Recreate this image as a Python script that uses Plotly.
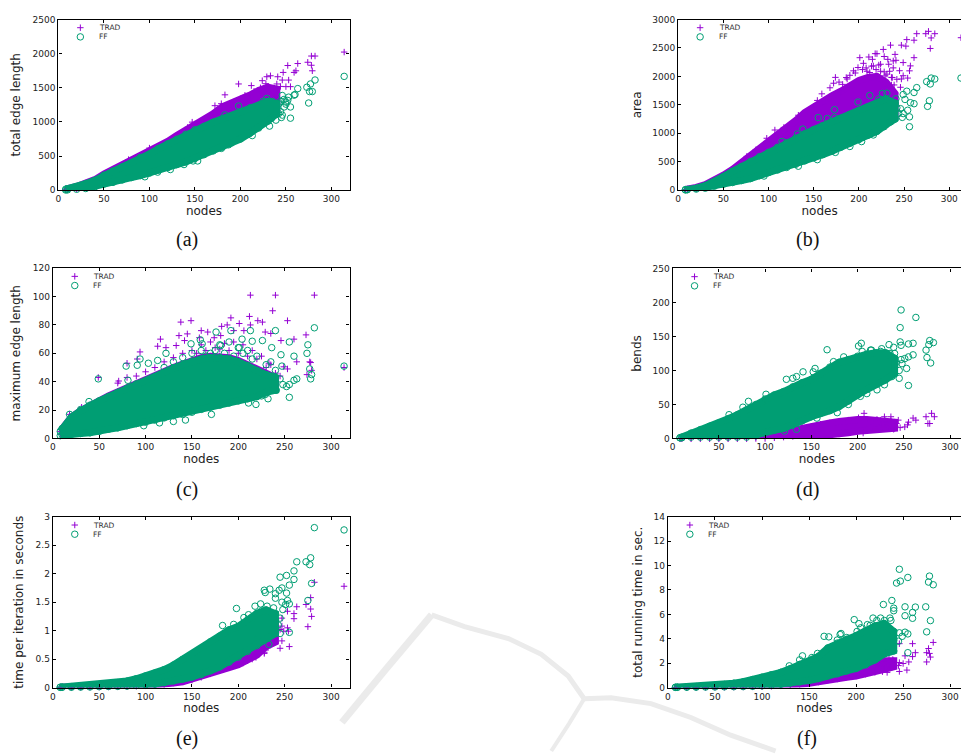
import plotly.graph_objects as go

W, H = 961, 756
PURPLE = "#9400d3"
GREEN = "#009e73"

# x positions (nodes) at which the edges of each dense cloud were read
stops = [8, 10, 20, 30, 40, 50, 60, 70, 80, 90, 100, 110, 120, 130, 140, 150, 160, 170, 180, 190, 200, 210, 220, 230, 240]

# (a) total edge length
a_ff_hi = [15, 20, 50, 95, 145, 220, 280, 340, 400, 480, 530, 610, 680, 745, 820, 885, 935, 995, 1045, 1090, 1140, 1185, 1240, 1300, 1270]
a_ff_lo = [3, 5, 14, 25, 50, 90, 115, 150, 185, 215, 250, 295, 330, 375, 415, 465, 520, 575, 630, 690, 750, 830, 910, 1010, 1120]
a_trad_hi = [15, 20, 55, 105, 155, 235, 300, 365, 440, 500, 580, 635, 715, 800, 880, 970, 1030, 1120, 1220, 1270, 1340, 1390, 1460, 1510, 1480]
a_trad_lo = [5, 7, 20, 35, 60, 100, 125, 160, 200, 230, 270, 310, 350, 390, 430, 490, 540, 600, 660, 720, 790, 870, 950, 1050, 1180]
a_trad_x = [314, 282, 278, 274, 278, 279, 263, 252, 261, 259, 247, 246, 253, 250, 255, 241, 240, 233, 229, 198, 183, 212, 224, 172, 179, 147, 142, 100, 111, 77, 205, 215, 222, 228, 232, 236, 240, 244, 238, 226, 218, 210]
a_trad_y = [2023, 1965, 1965, 1874, 1830, 1749, 1855, 1826, 1749, 1725, 1725, 1613, 1613, 1517, 1517, 1662, 1556, 1676, 1662, 1556, 1397, 1532, 1604, 1238, 1267, 997, 920, 617, 631, 448, 1390, 1450, 1500, 1560, 1490, 1420, 1470, 1520, 1350, 1440, 1380, 1340]
a_ff_x = [314, 282, 277, 273, 279, 276, 275, 263, 260, 259, 255, 255, 245, 239, 232, 213, 187, 179, 183, 198, 229, 246, 252, 248, 242, 211, 219, 239, 242, 250, 253, 148, 153, 138, 123, 109, 95, 232, 236, 240, 244, 248, 234, 228, 222, 238, 244, 225, 235, 250, 246]
a_ff_y = [1667, 1614, 1556, 1508, 1445, 1445, 1277, 1488, 1402, 1392, 1219, 1055, 1065, 1026, 939, 800, 665, 612, 1103, 1233, 1344, 1387, 1315, 1219, 1267, 1209, 1219, 1161, 1122, 1291, 1363, 429, 429, 376, 303, 265, 197, 1150, 1250, 1200, 1300, 1330, 1050, 1080, 1000, 1110, 1150, 1300, 1300, 1260, 1100]

# (b) area
b_ff_hi = [10, 12, 35, 80, 145, 240, 330, 415, 505, 590, 665, 755, 835, 915, 995, 1065, 1135, 1205, 1265, 1335, 1400, 1465, 1525, 1605, 1530]
b_ff_lo = [5, 8, 20, 35, 70, 105, 135, 170, 205, 255, 310, 355, 400, 455, 515, 570, 625, 685, 755, 825, 890, 965, 1035, 1150, 1250]
b_trad_hi = [12, 15, 50, 100, 175, 265, 365, 485, 605, 735, 855, 965, 1095, 1225, 1365, 1470, 1560, 1660, 1740, 1840, 1930, 1980, 2000, 1900, 1700]
b_trad_lo = [6, 9, 25, 45, 80, 120, 150, 190, 230, 280, 330, 380, 430, 490, 550, 610, 670, 740, 810, 890, 970, 1060, 1150, 1270, 1300]
b_trad_x = [313, 277, 284, 274, 280, 279, 264, 253, 261, 252, 247, 235, 261, 240, 241, 249, 257, 256, 249, 254, 247, 246, 239, 238, 227, 220, 211, 201, 199, 233, 224, 216, 174, 159, 154, 133, 117, 107, 98, 76, 86, 194, 187, 212, 231, 236, 205, 215, 222, 228, 232, 238, 242, 236, 245, 228, 218, 208, 168, 172, 178, 182, 186, 190, 196, 204, 209, 214, 219, 224, 229, 234, 237]
b_trad_y = [2680, 2792, 2751, 2751, 2676, 2491, 2751, 2647, 2636, 2532, 2549, 2549, 2329, 2387, 2283, 2243, 2185, 2098, 2012, 1971, 1954, 1809, 1850, 2272, 2474, 2399, 2341, 2329, 2156, 2214, 2214, 2185, 1983, 1694, 1578, 1318, 1104, 1058, 913, 595, 711, 2098, 1954, 2069, 2040, 1983, 2230, 2300, 2200, 2350, 2300, 2150, 1950, 1850, 2100, 2080, 2400, 2150, 1800, 1880, 1900, 1860, 1980, 2020, 2060, 2120, 2090, 2180, 2120, 2090, 2010, 2090, 1980]
b_ff_x = [313, 284, 280, 275, 279, 278, 276, 264, 261, 261, 253, 249, 251, 241, 257, 254, 256, 256, 231, 212, 199, 173, 173, 155, 165, 138, 132, 115, 228, 216, 203, 190, 174, 154, 133, 95, 246, 238, 249, 234, 232, 236, 240, 244, 226, 222, 242, 248, 235, 230, 225]
b_ff_y = [1971, 1954, 1971, 1908, 1867, 1572, 1474, 1803, 1717, 1520, 1740, 1682, 1595, 1607, 1538, 1405, 1289, 1116, 1705, 1665, 1549, 1416, 1277, 1277, 1260, 1075, 988, 855, 1116, 971, 855, 769, 665, 537, 422, 249, 1433, 1289, 1347, 1405, 1500, 1400, 1530, 1350, 1700, 1600, 1450, 1280, 1200, 1260, 1180]

# (c) maximum edge length
c_ff_hi = [5, 7, 15, 19.5, 23.5, 26.5, 29.5, 32.5, 35.5, 38.5, 40.5, 43.5, 46.5, 49.5, 52, 54.5, 56, 57, 57, 56, 54, 51.5, 48, 45, 43]
c_ff_lo = [2, 2.5, 3, 3.5, 4, 5, 6.5, 7.5, 9, 10.5, 11.5, 13, 14.5, 16, 17, 18.5, 20.5, 22, 23.5, 25, 26.5, 28, 29.5, 32.5, 34]
c_trad_hi = [5, 7, 15, 19.5, 23.5, 26.5, 30, 33, 36, 39, 41, 44, 47, 50, 52.5, 55, 57, 58, 58, 57, 55, 52, 48, 45, 43]
c_trad_lo = [3, 3.5, 4, 4.5, 5, 6, 7.5, 8.5, 10, 11.5, 12.5, 14, 15.5, 17, 18, 19.5, 21.5, 23, 24.5, 26, 27.5, 29, 30.5, 33.5, 35]
c_trad_x = [213, 240, 282, 237, 253, 212, 192, 149, 138, 167, 221, 226, 213, 201, 182, 188, 229, 235, 246, 260, 273, 277, 278, 263, 279, 274, 116, 113, 94, 91, 80, 80, 49, 71, 70, 31, 18, 122, 133, 136, 145, 142, 158, 160, 174, 181, 195, 206, 314, 253, 249, 233, 150, 160, 170, 175, 185, 195, 205, 215, 225, 235, 130, 140, 120, 110, 100, 90, 155, 165, 180, 190, 200, 210, 220, 230, 240, 245]
c_trad_y = [101, 101, 101, 90, 83, 86, 85, 83, 82, 75, 83, 82, 80, 81, 79, 80, 75, 74, 69, 70, 73, 54, 53.5, 54, 48, 45, 70, 65, 61, 56, 53, 43, 43, 40.5, 39, 22, 17, 64, 65.5, 72.5, 73.7, 69, 71, 76, 71, 72.5, 76, 76, 50, 49, 50.5, 53, 62, 66, 68, 64, 67, 68, 66, 62, 58, 52, 57, 60, 54, 50, 47, 44, 60, 62, 63, 62, 60, 58, 56, 50, 46, 44]
c_ff_x = [314, 282, 275, 274, 277, 279, 278, 260, 255, 246, 240, 213, 215, 226, 236, 235, 247, 263, 260, 255, 252, 255, 232, 219, 211, 171, 143, 130, 115, 98, 79, 49, 39, 94, 91, 103, 149, 159, 161, 176, 192, 201, 238, 241, 229, 122, 113, 18, 30, 81, 181, 204, 150, 160, 170, 180, 190, 200, 210, 220, 230, 240, 245, 248, 235, 225, 165, 175, 185, 195, 205, 215, 140, 130, 120]
c_ff_y = [51, 78, 66, 60, 49, 45, 42, 58, 68, 59, 76, 76, 68.5, 69, 64, 54, 51, 42, 41, 38, 36.6, 29, 28, 24, 25, 17, 13, 12, 11, 9, 51, 42, 26, 56, 51.6, 53, 66.7, 69.5, 66.7, 75, 76, 64, 39, 34, 31, 60, 55, 17, 20.4, 41, 65.5, 70, 60, 62, 60, 66, 68, 64, 62, 58, 52, 48, 42, 38, 36, 30, 58, 62, 60, 58, 60, 56, 57, 54, 50]

# (d) bends
d_ff_hi = [1, 2, 8, 13, 18, 23, 29, 35, 42, 50, 58, 64, 69, 76, 82, 87, 96, 105, 112, 116, 121, 124, 126, 126, 118]
d_ff_lo = [1, 1, 2, 2, 2, 2, 2, 2, 2, 4, 9, 12, 15, 20, 26, 32, 37, 41, 47, 55, 64, 72, 80, 86, 95]
d_trad_hi = [0, 0, 0, 0, 0, 0, 0, 0, 0, 2, 4, 7, 9, 13, 16, 18, 21, 23, 25, 27, 28, 28, 27, 26, 24]
d_trad_lo = [0, 0, 0, 0, 0, 0, 0, 0, 0, 0, 0, 1, 2, 3, 4, 5.5, 5.5, 5.5, 6.5, 8.5, 10.5, 12.5, 13.5, 14.5, 15]
d_trad_x = [207, 201, 229, 236, 260, 263, 280, 283, 274, 276, 278, 312, 244, 255, 254, 251, 246, 241, 237, 239, 221, 214, 206, 188, 225, 232, 238, 242, 236, 228]
d_trad_y = [37, 30.5, 32, 32, 30, 27, 37, 32, 32, 22, 22, 35, 27, 24, 20, 17, 16, 18, 23, 13.5, 28, 25.6, 8, 9, 27, 24, 18, 22, 26, 17]
d_ff_x = [312, 247, 263, 246, 167, 204, 201, 246, 247, 255, 260, 278, 277, 282, 274, 275, 279, 260, 255, 251, 247, 248, 253, 245, 255, 235, 234, 226, 214, 239, 240, 237, 239, 237, 229, 221, 210, 203, 190, 178, 156, 141, 154, 152, 134, 123, 130, 101, 82, 76, 61, 134, 121, 174, 185, 205, 215, 225, 232, 238, 242, 236, 232, 228, 222, 216, 245, 240, 210, 195]
d_ff_y = [202, 189, 178, 163, 130.5, 140, 136, 142, 137, 139, 140, 144, 138, 141, 130, 119, 111, 123, 120, 117.5, 116, 110, 103, 88.5, 78, 125, 138, 132, 130, 134, 125, 105, 100, 91, 79, 71.5, 66, 62, 50, 38, 30, 98, 103, 98, 91, 87, 88.5, 65, 54.6, 46, 35, 13.5, 11, 113, 120, 128, 130, 128, 125, 118, 112, 100, 95, 90, 85, 80, 100, 105, 75, 62]

# (e) time per iteration in seconds
e_ff_hi = [0.005, 0.008, 0.015, 0.02, 0.03, 0.04, 0.055, 0.085, 0.115, 0.155, 0.205, 0.255, 0.315, 0.395, 0.495, 0.585, 0.685, 0.805, 0.905, 1.015, 1.075, 1.185, 1.305, 1.365, 1.3]
e_ff_lo = [0.005, 0.005, 0.005, 0.008, 0.01, 0.015, 0.018, 0.02, 0.025, 0.035, 0.05, 0.06, 0.085, 0.115, 0.15, 0.185, 0.225, 0.295, 0.365, 0.445, 0.535, 0.635, 0.735, 0.855, 0.95]
e_trad_hi = [0.005, 0.005, 0.01, 0.015, 0.02, 0.03, 0.04, 0.06, 0.08, 0.1, 0.13, 0.16, 0.2, 0.25, 0.31, 0.38, 0.44, 0.51, 0.58, 0.66, 0.74, 0.83, 0.93, 1.03, 1.1]
e_trad_lo = [0.005, 0.005, 0.005, 0.005, 0.008, 0.01, 0.012, 0.015, 0.02, 0.025, 0.03, 0.04, 0.055, 0.08, 0.1, 0.13, 0.18, 0.24, 0.3, 0.35, 0.4, 0.47, 0.57, 0.72, 0.8]
e_trad_x = [314, 282, 278, 273, 278, 279, 275, 263, 260, 260, 253, 255, 245, 247, 240, 247, 247, 253, 254, 238, 238, 238, 233, 232, 228, 219, 222, 233, 249, 245, 225, 230, 235, 240, 228, 215, 205]
e_trad_y = [1.78, 1.85, 1.58, 1.46, 1.38, 1.25, 1.07, 1.42, 1.30, 1.21, 1.34, 0.72, 0.69, 0.82, 1.14, 1.22, 1.08, 1.05, 0.99, 1.02, 0.88, 0.79, 0.94, 0.70, 0.62, 0.53, 0.73, 0.82, 0.99, 1.02, 0.68, 0.75, 0.85, 0.95, 0.60, 0.50, 0.43]
e_ff_x = [314, 282, 278, 273, 277, 279, 275, 263, 260, 260, 255, 252, 245, 252, 247, 244, 234, 228, 229, 240, 240, 247, 253, 251, 255, 248, 198, 183, 218, 224, 231, 238, 245, 255, 245, 233, 211, 206, 195, 205, 215, 225, 232, 236, 240, 243, 236, 232, 226, 220]
e_ff_y = [2.77, 2.81, 2.28, 2.21, 2.16, 1.83, 1.53, 2.21, 2.05, 1.90, 1.80, 1.97, 1.94, 1.66, 1.75, 1.71, 1.73, 1.71, 1.67, 1.65, 1.57, 1.50, 1.53, 1.46, 1.47, 1.37, 1.39, 1.09, 1.43, 1.47, 1.43, 1.40, 1.22, 0.97, 0.95, 0.76, 1.28, 1.23, 1.11, 1.12, 1.20, 1.35, 1.33, 1.25, 1.20, 1.10, 1.05, 0.95, 0.90, 0.85]

# (f) total running time in sec.
f_ff_hi = [0.02, 0.03, 0.05, 0.08, 0.12, 0.18, 0.25, 0.36, 0.48, 0.65, 0.85, 1.05, 1.25, 1.55, 1.9, 2.15, 2.55, 3.25, 3.65, 3.95, 4.25, 4.65, 5.05, 5.25, 4.6]
f_ff_lo = [0.02, 0.02, 0.03, 0.03, 0.04, 0.05, 0.06, 0.07, 0.08, 0.1, 0.14, 0.2, 0.27, 0.36, 0.46, 0.58, 0.74, 0.95, 1.12, 1.36, 1.56, 1.86, 2.26, 2.76, 3]
f_trad_hi = [0.01, 0.01, 0.02, 0.03, 0.05, 0.07, 0.08, 0.1, 0.12, 0.15, 0.18, 0.22, 0.25, 0.3, 0.37, 0.47, 0.6, 0.75, 0.92, 1.12, 1.37, 1.65, 1.95, 2.2, 2.2]
f_trad_lo = [0.01, 0.01, 0.01, 0.02, 0.02, 0.03, 0.03, 0.04, 0.05, 0.06, 0.08, 0.1, 0.14, 0.2, 0.27, 0.36, 0.45, 0.6, 0.7, 0.85, 0.95, 1.1, 1.3, 1.5, 1.7]
f_trad_x = [312, 282, 277, 275, 278, 279, 275, 260, 246, 263, 260, 252, 256, 254, 246, 250, 246, 239, 238, 235, 245, 238, 233, 225, 232, 237, 240, 236, 228, 220]
f_trad_y = [3.5, 3.7, 3.2, 2.86, 2.8, 2.5, 2.1, 3.6, 3.6, 2.86, 2.54, 2.6, 2.1, 1.43, 1.32, 1.97, 2.05, 2.3, 3.1, 2.7, 1.8, 1.65, 1.24, 2.2, 2.1, 2.0, 1.9, 1.6, 1.3, 1.25]
f_ff_x = [312, 246, 255, 247, 243, 278, 277, 282, 274, 279, 275, 263, 260, 260, 252, 252, 238, 229, 240, 240, 236, 237, 226, 218, 198, 203, 212, 233, 166, 171, 184, 183, 143, 140, 255, 255, 246, 252, 249, 245, 233, 201, 229, 159, 153, 129, 205, 215, 222, 230, 236, 238, 240, 234, 230, 225, 218, 190, 180]
f_ff_y = [13.84, 9.7, 9.03, 8.73, 8.57, 9.14, 8.65, 8.43, 6.62, 5.49, 4.57, 6.6, 6.16, 5.68, 6.62, 5.89, 7.14, 6.81, 6.51, 6.3, 5.7, 5.5, 5.7, 5.7, 5.57, 5.24, 5.16, 5, 4.2, 4.16, 4.43, 4.35, 2.6, 2.27, 2.86, 4.4, 4.49, 4.54, 4.2, 3.8, 3.95, 4.6, 4.9, 2.8, 2.46, 1.78, 4.9, 5.1, 5.5, 5.5, 4.7, 4.2, 3.9, 3.5, 3.2, 3.0, 2.8, 4.1, 3.9]

x_ticks = [0, 50, 100, 150, 200, 250, 300]

# ---- page layout, in pixels ----
panels = [
    dict(tag="(a)", ytitle="total edge length", left=55.6, right=347.7, top=14.7, bottom=187.7, xmax=320, ymax=2500, dy=500, cx=185, cy=238, mirror=True, st=9,
         th=a_trad_hi, tl=a_trad_lo, fh=a_ff_hi, fl=a_ff_lo, tx=a_trad_x, ty=a_trad_y, fx=a_ff_x, fy=a_ff_y),
    dict(tag="(b)", ytitle="area", left=677.3, right=961, top=14.7, bottom=187.7, xmax=313, ymax=3000, dy=500, cx=807, cy=238, mirror=False, st=8,
         th=b_trad_hi, tl=b_trad_lo, fh=b_ff_hi, fl=b_ff_lo, tx=b_trad_x, ty=b_trad_y, fx=b_ff_x, fy=b_ff_y),
    dict(tag="(c)", ytitle="maximum edge length", left=50, right=347.7, top=266.7, bottom=439.3, xmax=320, ymax=120, dy=20, cx=185, cy=491, mirror=True, st=9,
         th=c_trad_hi, tl=c_trad_lo, fh=c_ff_hi, fl=c_ff_lo, tx=c_trad_x, ty=c_trad_y, fx=c_ff_x, fy=c_ff_y),
    dict(tag="(d)", ytitle="bends", left=671.7, right=961, top=267, bottom=439.3, xmax=311.8, ymax=250, dy=50, cx=807, cy=491, mirror=False, st=8,
         th=d_trad_hi, tl=d_trad_lo, fh=d_ff_hi, fl=d_ff_lo, tx=d_trad_x, ty=d_trad_y, fx=d_ff_x, fy=d_ff_y),
    dict(tag="(e)", ytitle="time per iteration in seconds", left=50, right=347.7, top=518.7, bottom=691.7, xmax=320, ymax=3, dy=0.5, cx=185, cy=743, mirror=True, st=9,
         th=e_trad_hi, tl=e_trad_lo, fh=e_ff_hi, fl=e_ff_lo, tx=e_trad_x, ty=e_trad_y, fx=e_ff_x, fy=e_ff_y),
    dict(tag="(f)", ytitle="total running time in sec.", left=667, right=961, top=518.7, bottom=691.7, xmax=311.5, ymax=14, dy=2, cx=807, cy=743, mirror=False, st=8,
         th=f_trad_hi, tl=f_trad_lo, fh=f_ff_hi, fl=f_ff_lo, tx=f_trad_x, ty=f_trad_y, fx=f_ff_x, fy=f_ff_y),
]

fig = go.Figure()
annotations, shapes = [], []
layout = {}
TICK = dict(family="DejaVu Sans", size=9, color="#222222")
TITLE = dict(family="DejaVu Sans", size=12, color="#222222")
PLUS = 4.6
RING = 6.5


def px(x):
    return x / W


def py(y):
    return 1 - y / H


def add_cloud(xa, ya, name, color, symbol, hi, lo, xs, ys, size):
    marker = dict(symbol=symbol, size=size, color=color, line=dict(color=color, width=1))
    fig.add_trace(go.Scatter(x=stops + stops[::-1], y=hi + lo[::-1], xaxis=xa, yaxis=ya, mode="lines", fill="toself",
                             fillcolor=color, line=dict(color=color, width=7), cliponaxis=False, hoverinfo="skip", showlegend=False, name=name))
    fig.add_trace(go.Scatter(x=stops + stops + xs, y=hi + lo + ys, xaxis=xa, yaxis=ya, mode="markers", marker=marker,
                             cliponaxis=False, showlegend=False, name=name))


for i, p in enumerate(panels):
    n = "" if i == 0 else str(i + 1)
    xa, ya = "x" + n, "y" + n
    add_cloud(xa, ya, "TRAD", PURPLE, "cross-thin-open", p["th"], p["tl"], p["tx"], p["ty"], PLUS)
    add_cloud(xa, ya, "FF", GREEN, "circle-open", p["fh"], p["fl"], p["fx"], p["fy"], RING)

    w = p["right"] - p["left"]
    h = p["bottom"] - p["top"]
    # legend key: two samples and their labels at the panel's upper left
    key_x = [22 / w * p["xmax"]] * 2
    key_y = [(1 - 8.3 / h) * p["ymax"], (1 - 17.6 / h) * p["ymax"]]
    fig.add_trace(go.Scatter(x=key_x[:1], y=key_y[:1], xaxis=xa, yaxis=ya, mode="markers", showlegend=False, name="TRAD",
                             marker=dict(symbol="cross-thin-open", size=PLUS, color=PURPLE, line=dict(color=PURPLE, width=1))))
    fig.add_trace(go.Scatter(x=key_x[1:], y=key_y[1:], xaxis=xa, yaxis=ya, mode="markers", showlegend=False, name="FF",
                             marker=dict(symbol="circle-open", size=RING, color=GREEN, line=dict(color=GREEN, width=1))))
    for label, off in (("TRAD", 8.3), ("FF", 17.6)):
        annotations.append(dict(text=label, xref="paper", yref="paper", x=px(p["left"] + 38.7), y=py(p["top"] + off),
                                xanchor="left", yanchor="middle", showarrow=False, font=dict(family="DejaVu Sans", size=7.5, color="#333333")))
    annotations.append(dict(text=p["tag"], xref="paper", yref="paper", x=px(p["cx"]), y=py(p["cy"]), xanchor="center", yanchor="middle",
                            showarrow=False, font=dict(family="Liberation Serif", size=20, color="#111111")))

    ky = int(p["ymax"] / p["dy"] + 0.5)
    layout["xaxis" + n] = dict(domain=[px(p["left"]), px(p["right"])], anchor=ya, range=[0, p["xmax"]], tickmode="array", tickvals=x_ticks,
                               ticks="inside", ticklen=3, tickwidth=1, tickcolor="#000", showline=True, linecolor="#000", linewidth=1.3,
                               mirror="allticks", showgrid=False, zeroline=False, tickfont=TICK,
                               title=dict(text="nodes", font=TITLE, standoff=3))
    layout["yaxis" + n] = dict(domain=[py(p["bottom"]), py(p["top"])], anchor=xa, range=[0, p["ymax"]], tickmode="array",
                               tickvals=[round(k * p["dy"], 3) for k in range(ky + 1)], ticks="inside", ticklen=3, tickwidth=1, tickcolor="#000",
                               showline=True, linecolor="#000", linewidth=1.3, mirror="allticks" if p["mirror"] else False,
                               showgrid=False, zeroline=False, tickfont=TICK, title=dict(text=p["ytitle"], font=TITLE, standoff=p["st"]))

# faint watermark running behind the lower part of the page
WM = "#ebebeb"


def wm_path(points):
    head = "M %.5f,%.5f " % (px(points[0][0]), py(points[0][1]))
    return head + " ".join("L %.5f,%.5f" % (px(a), py(b)) for a, b in points[1:])


for pts, width in (
    ([(340, 727), (385, 672), (430, 618)], 7),
    ([(430, 618), (463, 630), (507, 642), (540, 658), (567, 680), (583, 703)], 5),
    ([(583, 703), (610, 702), (650, 708), (690, 722), (730, 740), (775, 756)], 5),
    ([(583, 703), (568, 728), (550, 756)], 4),
):
    shapes.append(dict(type="path", xref="paper", yref="paper", path=wm_path(pts), line=dict(color=WM, width=width), layer="below"))

fig.update_layout(width=W, height=H, autosize=False, margin=dict(l=0, r=0, t=0, b=0), paper_bgcolor="white", plot_bgcolor="rgba(0,0,0,0)",
                  showlegend=False, annotations=annotations, shapes=shapes, **layout)
fig.write_html("out.html", config=dict(displayModeBar=False), post_script="document.body.style.margin='0';")
